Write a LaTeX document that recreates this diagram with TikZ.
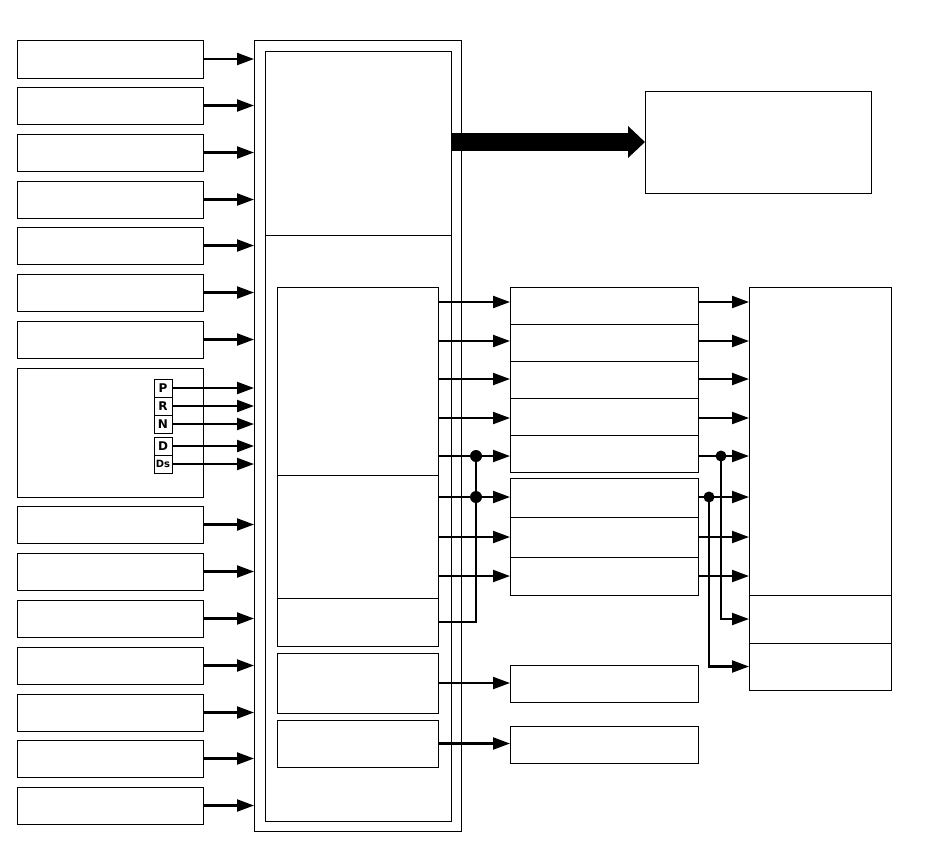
\documentclass[tikz,border=0pt]{standalone}
\usepackage{fontspec}
\newfontfamily\tagfont{DejaVu Sans}
\usetikzlibrary{arrows.meta}
\tikzset{
 box/.style={draw, line width=1pt, inner sep=0pt, outer sep=0pt, anchor=north west},
 arr/.style={line width=2.2pt, -{Triangle[length=17pt,width=12pt]}},
 wire/.style={line width=2.2pt},
 dot/.style={circle, fill, inner sep=0pt, minimum size=12pt},
 sdot/.style={circle, fill, inner sep=0pt, minimum size=11pt},
 lbl/.style={draw, line width=1pt, inner sep=0pt, outer sep=0pt, minimum width=18pt, minimum height=18pt, font=\tagfont\bfseries\fontsize{12}{12}\selectfont},
 bigarr/.style={line width=18pt, -{Triangle[length=17pt,width=31pt]}}
}
\newcommand\bx[5]{\node[box,minimum width={(#4-#2)*1pt},minimum height={(#5-#3)*1pt}] (#1) at (#2pt,-#3pt) {};}
\begin{document}
\begin{tikzpicture}
\useasboundingbox (0pt,0pt) rectangle (950pt,-847pt);
% left column
\bx{L1}{17}{40}{203}{78}
\bx{L2}{17}{87}{203}{124}
\bx{L3}{17}{134}{203}{171}
\bx{L4}{17}{181}{203}{218}
\bx{L5}{17}{227}{203}{264}
\bx{L6}{17}{274}{203}{311}
\bx{L7}{17}{321}{203}{358}
\bx{L8}{17}{368}{203}{497}
\bx{L9}{17}{506}{203}{543}
\bx{L10}{17}{553}{203}{590}
\bx{L11}{17}{600}{203}{637}
\bx{L12}{17}{647}{203}{684}
\bx{L13}{17}{694}{203}{731}
\bx{L14}{17}{740}{203}{777}
\bx{L15}{17}{787}{203}{824}
% letter tags
\node[lbl] (lP) at (163pt,-388pt) {P};
\node[lbl] (lR) at (163pt,-406pt) {R};
\node[lbl] (lN) at (163pt,-424pt) {N};
\node[lbl] (lD) at (163pt,-446pt) {D};
\node[lbl,font=\tagfont\bfseries\fontsize{10}{10}\selectfont] (lDs) at (163pt,-464pt) {Ds};
% central block
\bx{O}{254}{40}{461}{831}
\bx{I}{265}{51}{451}{821}
\draw[line width=1pt] ([yshift=-184pt]I.north west) -- ([yshift=-184pt]I.north east);
\bx{A}{277}{287}{438}{475}
\bx{B}{277}{475}{438}{598}
\bx{C}{277}{598}{438}{646}
\bx{D}{277}{653}{438}{713}
\bx{E}{277}{720}{438}{767}
% target
\bx{T}{645}{91}{871}{193}
% middle column
\bx{M1}{510}{287}{698}{324}
\bx{M2}{510}{324}{698}{361}
\bx{M3}{510}{361}{698}{398}
\bx{M4}{510}{398}{698}{435}
\bx{M5}{510}{435}{698}{472}
\bx{M6}{510}{478}{698}{517}
\bx{M7}{510}{517}{698}{557}
\bx{M8}{510}{557}{698}{595}
\bx{S1}{510}{665}{698}{702}
\bx{S2}{510}{726}{698}{763}
% right block
\bx{R1}{749}{287}{891}{595}
\bx{R2}{749}{595}{891}{643}
\bx{R3}{749}{643}{891}{690}
% input arrows
\foreach \i in {1,...,7,9,10,11,12,13,14,15}
  \draw[arr] (L\i.east) -- (O.west |- L\i.east);
\foreach \n in {lP,lR,lN,lD,lDs}
  \draw[arr] (\n.east) -- (O.west |- \n.east);
% big arrow
\draw[bigarr] (I.east |- T.west) -- (T.west);
% middle arrow y positions
\coordinate (m1) at (0pt,-302pt);
\coordinate (m2) at (0pt,-341pt);
\coordinate (m3) at (0pt,-379pt);
\coordinate (m4) at (0pt,-418pt);
\coordinate (m5) at (0pt,-456pt);
\coordinate (m6) at (0pt,-497pt);
\coordinate (m7) at (0pt,-537pt);
\coordinate (m8) at (0pt,-576pt);
\foreach \i in {1,...,5}
  \draw[arr] (A.east |- m\i) -- (M\i.west |- m\i);
\foreach \i in {6,7,8}
  \draw[arr] (B.east |- m\i) -- (M\i.west |- m\i);
\foreach \i in {1,...,8}
  \draw[arr] (M\i.east |- m\i) -- (R1.west |- m\i);
\draw[arr] (D.east) -- (S1.west |- D.east);
\draw[arr] (E.east) -- (S2.west |- E.east);
% left junctions
\node[dot] (j1) at (476pt,-456pt) {};
\node[dot] (j2) at (476pt,-497pt) {};
\draw[wire] (C.east) -| (j1.center);
% right junctions
\node[sdot] (k1) at (721pt,-456pt) {};
\node[sdot] (k2) at (709pt,-497pt) {};
\draw[arr] (k1.center) |- (R2.west);
\draw[arr] (k2.center) |- (R3.west);
\end{tikzpicture}
\end{document}
